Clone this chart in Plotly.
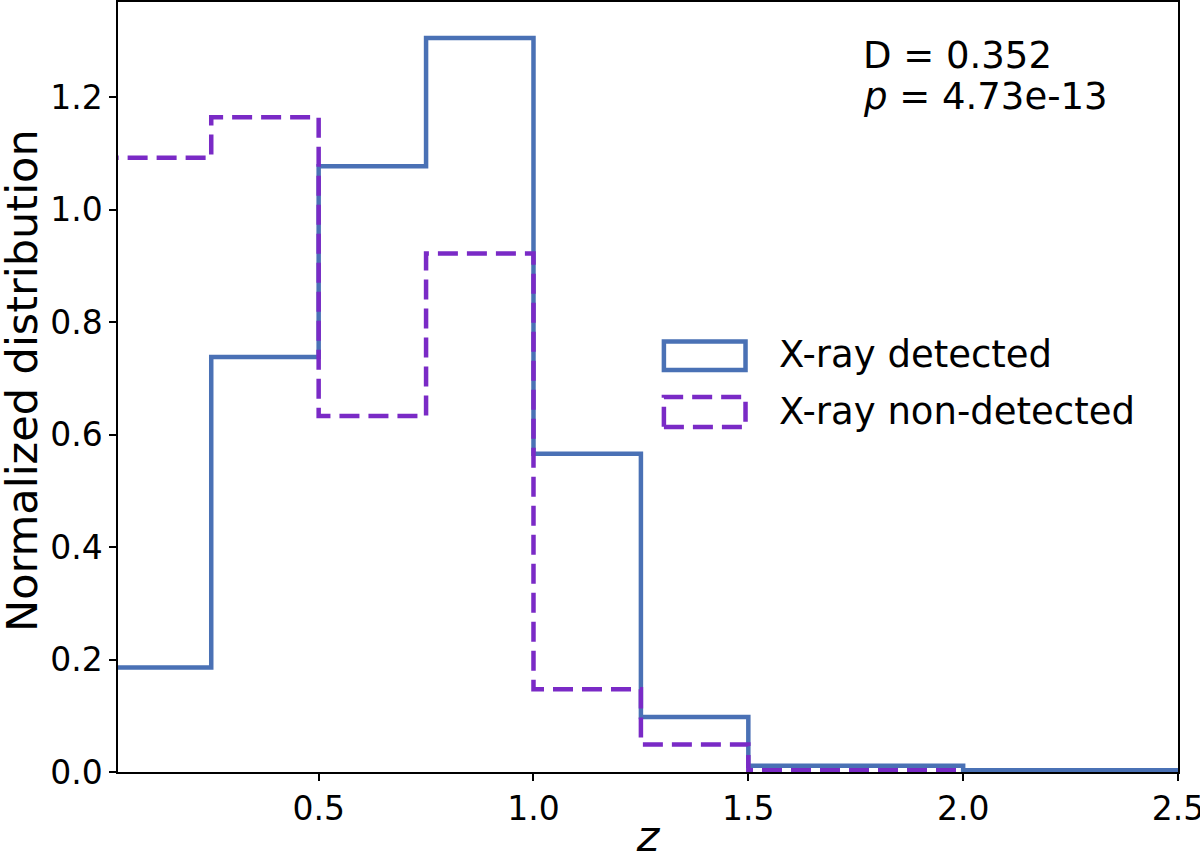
import plotly.graph_objects as go

# bin edges (redshift) and normalized heights
edges_det = [0.0, 0.25, 0.5, 0.75, 1.0, 1.25, 1.5, 2.0, 2.5]
dist_det = [0.186, 0.738, 1.077, 1.305, 0.566, 0.098, 0.011, 0.003]

edges_non = [0.0, 0.25, 0.5, 0.75, 1.0, 1.25, 1.5, 2.0]
dist_non = [1.092, 1.164, 0.633, 0.922, 0.147, 0.049, 0.003]

label_det = "X-ray detected"
label_non = "X-ray non-detected"
ks_D = "0.352"
ks_p = "4.73e-13"

blue = "#4a71b5"
purple = "#7a2ac6"
font = "DejaVu Sans"


def step_xy(edges, vals):
    # outline like matplotlib histtype='step'
    x = [edges[0]] + list(edges)
    y = [0] + list(vals) + [0]
    return x, y


fig = go.Figure()

x, y = step_xy(edges_det, dist_det)
fig.add_trace(go.Scatter(x=x, y=y, mode="lines", line_shape="hv",
                         line=dict(color=blue, width=4.5), name=label_det,
                         showlegend=False))

x, y = step_xy(edges_non, dist_non)
fig.add_trace(go.Scatter(x=x, y=y, mode="lines", line_shape="hv",
                         line=dict(color=purple, width=4.5, dash="20px,9px"),
                         name=label_non, showlegend=False))

# legend drawn by hand so the handles are open rectangles
fig.add_shape(type="rect", xref="paper", yref="paper", x0=0.515, x1=0.592,
              y0=0.522, y1=0.559, line=dict(color=blue, width=4.5))
fig.add_shape(type="rect", xref="paper", yref="paper", x0=0.515, x1=0.592,
              y0=0.448, y1=0.487, line=dict(color=purple, width=4.5, dash="20px,9px"))
fig.add_annotation(x=0.622, y=0.5416, xref="paper", yref="paper", text=label_det,
                   showarrow=False, xanchor="left", yanchor="middle",
                   font=dict(size=37, color="black", family=font))
fig.add_annotation(x=0.622, y=0.468, xref="paper", yref="paper", text=label_non,
                   showarrow=False, xanchor="left", yanchor="middle",
                   font=dict(size=37, color="black", family=font))

# KS test result
fig.add_annotation(x=0.701, y=0.9305, xref="paper", yref="paper", text="D = " + ks_D,
                   showarrow=False, xanchor="left", yanchor="middle",
                   font=dict(size=37, color="black", family=font))
fig.add_annotation(x=0.701, y=0.877, xref="paper", yref="paper",
                   text="<i>p</i> = " + ks_p,
                   showarrow=False, xanchor="left", yanchor="middle",
                   font=dict(size=37, color="black", family=font))

# y label as annotation so it can sit closer to the edge
fig.add_annotation(x=-0.0905, y=0.508, xref="paper", yref="paper",
                   text="Normalized distribution", textangle=-90,
                   showarrow=False, xanchor="center", yanchor="middle",
                   font=dict(size=43, color="black", family=font))

axis_common = dict(showline=True, linecolor="black", linewidth=1.5, mirror=True,
                   ticks="outside", ticklen=7, tickwidth=1.5, tickcolor="black",
                   showgrid=False, zeroline=False, automargin=False,
                   ticklabeloverflow="allow",
                   tickfont=dict(size=33, color="black", family=font))

fig.update_xaxes(range=[0.033, 2.5], tickvals=[0.5, 1.0, 1.5, 2.0, 2.5],
                 tickformat=".1f",
                 title=dict(text="<i>z</i>", font=dict(size=43, color="black", family=font),
                            standoff=20),
                 **axis_common)
fig.update_yaxes(range=[0, 1.369], tickvals=[0, 0.2, 0.4, 0.6, 0.8, 1.0, 1.2],
                 tickformat=".1f", **axis_common)

fig.update_layout(width=1200, height=861, plot_bgcolor="white", paper_bgcolor="white",
                  margin=dict(l=118, r=22, t=2, b=89, autoexpand=False),
                  font=dict(family=font))

# drop the default 8px body margin of the page
fig.write_html("out.html", config={"displayModeBar": False},
               post_script="document.body.style.margin='0';")
